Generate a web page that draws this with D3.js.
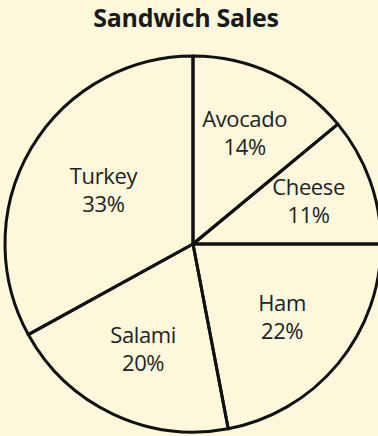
<!DOCTYPE html>
<html>
<head>
<meta charset="utf-8">
<script src="https://cdn.jsdelivr.net/npm/d3@7"></script>
<style>
  html, body { margin: 0; padding: 0; background: #fdf8dc; }
  svg { display: block; }
</style>
</head>
<body>
<svg id="chart" width="378" height="436"></svg>
<script>
'use strict';

// data
const title = 'Sandwich Sales';
const categories = ['Avocado', 'Cheese', 'Ham', 'Salami', 'Turkey'];
const shares = [14, 11, 22, 20, 33];

const width = 378;
const height = 436;
const cx = 193;
const cy = 244;
const radius = 188;

const svg = d3.select('#chart');

svg.append('rect')
  .attr('width', width)
  .attr('height', height)
  .attr('fill', '#fdf8dc');

svg.append('text')
  .attr('x', 186)
  .attr('y', 27)
  .attr('text-anchor', 'middle')
  .style('font-family', 'Open Sans, sans-serif')
  .style('font-weight', 700)
  .style('font-size', '25px')
  .style('letter-spacing', '-0.3px')
  .attr('fill', '#1a1a1a')
  .text(title);

const pie = d3.pie()
  .value((d) => d.value)
  .sort(null);

const arcs = pie(categories.map((c, i) => ({ key: c, value: shares[i] })));

const arc = d3.arc().innerRadius(0).outerRadius(radius);

// labels sit on the area centroid of each sector
function sectorCentroid(d) {
  const half = (d.endAngle - d.startAngle) / 2;
  const mid = d.startAngle + half;
  const dist = (2 * radius * Math.sin(half)) / (3 * half);
  return [dist * Math.sin(mid), -dist * Math.cos(mid)];
}

const g = svg.append('g')
  .attr('transform', 'translate(' + cx + ',' + cy + ')');

g.selectAll('.slice')
  .data(arcs)
  .enter()
  .append('path')
  .attr('class', 'slice')
  .attr('d', arc)
  .attr('fill', 'none')
  .attr('stroke', '#111')
  .attr('stroke-width', 3)
  .attr('stroke-linejoin', 'round');

const labels = g.selectAll('.label')
  .data(arcs)
  .enter()
  .append('text')
  .attr('class', 'label')
  .attr('transform', (d) => 'translate(' + sectorCentroid(d) + ')')
  .attr('text-anchor', 'middle')
  .style('font-family', 'Open Sans, sans-serif')
  .style('font-size', '22px')
  .style('letter-spacing', '-0.4px')
  .attr('fill', '#222');

labels.append('tspan')
  .attr('x', 0)
  .attr('y', -7)
  .text((d) => d.data.key);

labels.append('tspan')
  .attr('x', 0)
  .attr('y', 21)
  .text((d) => d.data.value + '%');
</script>
</body>
</html>
